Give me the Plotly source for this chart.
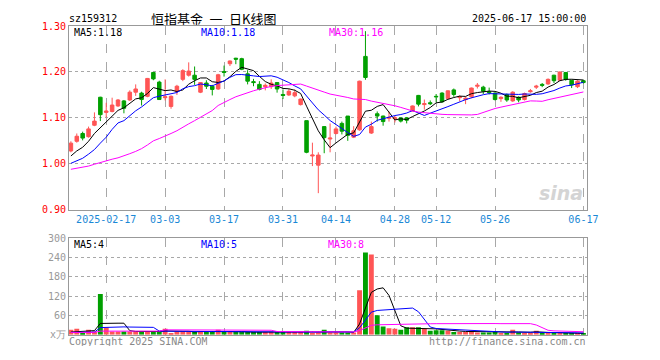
import plotly.graph_objects as go
import pandas as pd

dates = [
    "2025-02-07", "2025-02-10", "2025-02-11", "2025-02-12", "2025-02-13", "2025-02-14",
    "2025-02-17", "2025-02-18", "2025-02-19", "2025-02-20", "2025-02-21",
    "2025-02-24", "2025-02-25", "2025-02-26", "2025-02-27", "2025-02-28",
    "2025-03-03", "2025-03-04", "2025-03-05", "2025-03-06", "2025-03-07",
    "2025-03-10", "2025-03-11", "2025-03-12", "2025-03-13", "2025-03-14",
    "2025-03-17", "2025-03-18", "2025-03-19", "2025-03-20", "2025-03-21",
    "2025-03-24", "2025-03-25", "2025-03-26", "2025-03-27", "2025-03-28",
    "2025-03-31", "2025-04-01", "2025-04-02", "2025-04-03",
    "2025-04-07", "2025-04-08", "2025-04-09", "2025-04-10", "2025-04-11",
    "2025-04-14", "2025-04-15", "2025-04-16", "2025-04-17", "2025-04-18",
    "2025-04-21", "2025-04-22", "2025-04-23", "2025-04-24", "2025-04-25",
    "2025-04-28", "2025-04-29", "2025-04-30",
    "2025-05-06", "2025-05-07", "2025-05-08", "2025-05-09",
    "2025-05-12", "2025-05-13", "2025-05-14", "2025-05-15", "2025-05-16",
    "2025-05-19", "2025-05-20", "2025-05-21", "2025-05-22", "2025-05-23",
    "2025-05-26", "2025-05-27", "2025-05-28", "2025-05-29", "2025-05-30",
    "2025-06-03", "2025-06-04", "2025-06-05", "2025-06-06",
    "2025-06-09", "2025-06-10", "2025-06-11", "2025-06-12", "2025-06-13",
    "2025-06-16", "2025-06-17",
]

opens = [1.028, 1.049, 1.066, 1.059, 1.084, 1.145, 1.112, 1.114, 1.126, 1.137,
         1.139, 1.156, 1.154, 1.147, 1.199, 1.178, 1.144, 1.125, 1.158, 1.184,
         1.193, 1.193, 1.156, 1.176, 1.169, 1.163, 1.201, 1.218, 1.230, 1.229,
         1.196, 1.179, 1.173, 1.168, 1.168, 1.177, 1.151, 1.150, 1.148, 1.129,
         1.094, 1.017, 0.997, 1.081, 1.054, 1.066, 1.088, 1.104, 1.058, 1.074,
         1.234, 1.067, 1.109, 1.104, 1.099, 1.098, 1.100, 1.100, 1.115, 1.149,
         1.129, 1.133, 1.147, 1.154, 1.142, 1.161, 1.144, 1.140, 1.146, 1.169,
         1.167, 1.157, 1.154, 1.142, 1.151, 1.137, 1.145, 1.140, 1.157, 1.167,
         1.173, 1.174, 1.193, 1.182, 1.199, 1.182, 1.168, 1.181]
highs = [1.049, 1.066, 1.070, 1.081, 1.112, 1.146, 1.133, 1.144, 1.141, 1.139,
         1.160, 1.173, 1.157, 1.187, 1.200, 1.181, 1.184, 1.149, 1.172, 1.206,
         1.221, 1.212, 1.178, 1.182, 1.172, 1.196, 1.214, 1.225, 1.231, 1.231,
         1.204, 1.185, 1.180, 1.175, 1.184, 1.178, 1.162, 1.163, 1.162, 1.142,
         1.094, 1.046, 1.025, 1.082, 1.088, 1.081, 1.092, 1.104, 1.082, 1.181,
         1.289, 1.092, 1.114, 1.105, 1.114, 1.104, 1.101, 1.102, 1.127, 1.150,
         1.140, 1.138, 1.152, 1.156, 1.160, 1.164, 1.149, 1.146, 1.166, 1.176,
         1.170, 1.166, 1.156, 1.147, 1.153, 1.158, 1.147, 1.155, 1.163, 1.172,
         1.176, 1.186, 1.194, 1.201, 1.200, 1.183, 1.182, 1.183]
lows = [1.025, 1.046, 1.051, 1.057, 1.082, 1.093, 1.101, 1.112, 1.124, 1.110,
        1.137, 1.148, 1.127, 1.145, 1.182, 1.139, 1.138, 1.120, 1.150, 1.180,
        1.190, 1.172, 1.154, 1.163, 1.149, 1.161, 1.190, 1.213, 1.217, 1.204,
        1.173, 1.169, 1.160, 1.160, 1.163, 1.155, 1.141, 1.148, 1.145, 1.127,
        1.023, 0.995, 0.936, 1.023, 1.025, 1.064, 1.064, 1.050, 1.056, 1.072,
        1.183, 1.065, 1.092, 1.083, 1.092, 1.090, 1.090, 1.088, 1.114, 1.125,
        1.118, 1.128, 1.134, 1.133, 1.141, 1.146, 1.136, 1.130, 1.143, 1.164,
        1.152, 1.151, 1.138, 1.135, 1.135, 1.135, 1.134, 1.138, 1.155, 1.163,
        1.167, 1.172, 1.176, 1.181, 1.181, 1.165, 1.165, 1.175]
closes = [1.045, 1.060, 1.056, 1.076, 1.093, 1.107, 1.115, 1.128, 1.139, 1.121,
          1.156, 1.163, 1.140, 1.186, 1.185, 1.140, 1.146, 1.147, 1.169, 1.203,
          1.202, 1.184, 1.177, 1.169, 1.162, 1.194, 1.199, 1.224, 1.228, 1.206,
          1.180, 1.177, 1.162, 1.171, 1.176, 1.163, 1.149, 1.158, 1.155, 1.141,
          1.025, 1.019, 1.019, 1.057, 1.056, 1.076, 1.071, 1.062, 1.072, 1.180,
          1.188, 1.081, 1.104, 1.092, 1.101, 1.100, 1.093, 1.095, 1.126, 1.130,
          1.131, 1.131, 1.146, 1.135, 1.159, 1.151, 1.146, 1.143, 1.165, 1.171,
          1.158, 1.155, 1.140, 1.145, 1.139, 1.156, 1.139, 1.153, 1.159, 1.169,
          1.171, 1.184, 1.181, 1.200, 1.184, 1.172, 1.180, 1.177]
volumes = [15, 18, 5, 15, 10, 126, 22, 10, 10, 10,
           10, 10, 9, 10, 10, 10, 18, 5, 10, 10,
           10, 8, 10, 8, 8, 15, 8, 8, 8, 8,
           8, 8, 8, 8, 8, 8, 8, 8, 8, 8,
           12, 5, 7, 15, 7, 7, 7, 7, 7, 138,
           255, 249, 60, 25, 20, 18, 15, 23, 23, 23,
           18, 12, 14, 14, 12, 8, 8, 8, 12, 7,
           7, 7, 9, 5, 5, 15, 7, 5, 5, 12,
           6, 6, 5, 5, 5, 4, 3, 3]

# moving-average values before enough in-window history exists
ma5_head = [1.017, 1.028, 1.036, 1.049]
ma10_head = [1.001, 1.007, 1.012, 1.021, 1.031, 1.045, 1.058, 1.075, 1.089]
ma30_head = [0.988, 0.990, 0.992, 0.995, 0.999, 1.003, 1.007, 1.010, 1.013, 1.017,
             1.022, 1.027, 1.033, 1.041, 1.050, 1.055, 1.060, 1.066, 1.072, 1.080,
             1.087, 1.094, 1.101, 1.108, 1.116, 1.127, 1.134, 1.140, 1.146]
vma5_head = [8, 9, 9, 10]
vma10_head = [7, 7, 8, 8, 8, 22, 23, 23, 23]
vma30_head = [7] * 5 + [11] * 11 + [15] * 13

tick_dates = ["2025-02-17", "2025-03-03", "2025-03-17", "2025-03-31", "2025-04-14",
              "2025-04-28", "2025-05-12", "2025-05-26", "2025-06-17"]
tick_text = ["2025-02-17", "03-03", "03-17", "03-31", "04-14", "04-28", "05-12", "05-26", "06-17"]
price_ticks = [0.90, 1.00, 1.10, 1.20, 1.30]
vol_ticks = [0, 60, 120, 180, 240, 300]
vol_tick_text = ["x万", "60", "120", "180", "240", "300"]


def ma(vals, n, head):
    s = pd.Series(vals, dtype=float).rolling(n).mean().tolist()
    return list(head) + s[len(head):]


RED = "#ff5555"
GREEN = "#00a000"
GRID = "#a8a8a8"
FRAME = "#999999"
MONO = "DejaVu Sans Mono"
W, H = 660, 360

XL, XR = 70.3, 597.7
TOP_T, TOP_B = 20.8, 210.7
VOL_T, VOL_B = 240.0, 340.0

fig = go.Figure()

fig.add_trace(go.Candlestick(
    x=dates, open=opens, high=highs, low=lows, close=closes,
    increasing=dict(line=dict(color=RED, width=1), fillcolor=RED),
    decreasing=dict(line=dict(color=GREEN, width=1), fillcolor=GREEN),
    whiskerwidth=0, xaxis="x", yaxis="y", hoverinfo="skip", showlegend=False,
))
for vals, color in [(ma(closes, 5, ma5_head), "black"),
                    (ma(closes, 10, ma10_head), "#0000ff"),
                    (ma(closes, 30, ma30_head), "#ff00ff")]:
    fig.add_trace(go.Scatter(x=dates, y=vals, mode="lines", line=dict(color=color, width=1),
                             xaxis="x", yaxis="y", hoverinfo="skip", showlegend=False))

vcolors = [RED if c >= o else GREEN for o, c in zip(opens, closes)]
fig.add_trace(go.Bar(x=dates, y=volumes, marker=dict(color=vcolors, line=dict(width=0)),
                     xaxis="x2", yaxis="y2", hoverinfo="skip", showlegend=False))
for vals, color in [(ma(volumes, 5, vma5_head), "black"),
                    (ma(volumes, 10, vma10_head), "#0000ff"),
                    (ma(volumes, 30, vma30_head), "#ff00ff")]:
    fig.add_trace(go.Scatter(x=dates, y=vals, mode="lines", line=dict(color=color, width=1),
                             xaxis="x2", yaxis="y2", hoverinfo="skip", showlegend=False))

xdom = [XL / W, XR / W]
xrange = [-0.317, len(dates) - 1 + 0.58]
common_x = dict(type="category", domain=xdom, range=xrange, showline=True, mirror=True,
                linecolor=FRAME, linewidth=1, showgrid=True, gridcolor=GRID, griddash="dash",
                gridwidth=1, tickmode="array", tickvals=tick_dates, ticks="", zeroline=False,
                fixedrange=True)

fig.update_layout(
    width=W, height=H, margin=dict(l=0, r=0, t=0, b=0),
    paper_bgcolor="white", plot_bgcolor="white", bargap=0.17, boxgap=0.15,
    xaxis=dict(**common_x, anchor="y", ticktext=tick_text,
               tickfont=dict(family=MONO, size=10, color="#1a88d6"),
               rangeslider=dict(visible=False)),
    xaxis2=dict(**common_x, anchor="y2", ticktext=[""] * len(tick_dates), showticklabels=False),
    yaxis=dict(domain=[1 - TOP_B / H, 1 - TOP_T / H], range=[0.90, 1.30], anchor="x",
               showline=True, mirror=True, linecolor=FRAME, linewidth=1,
               showgrid=True, gridcolor=GRID, griddash="dot", tickmode="array",
               tickvals=price_ticks, ticktext=["%.2f" % v for v in price_ticks],
               tickfont=dict(family=MONO, size=10, color="#ff0000"), ticks="",
               zeroline=False, fixedrange=True),
    yaxis2=dict(domain=[1 - VOL_B / H, 1 - VOL_T / H], range=[0, 300], anchor="x2",
                showline=True, mirror=True, linecolor=FRAME, linewidth=1,
                showgrid=True, gridcolor=GRID, griddash="dot", tickmode="array",
                tickvals=vol_ticks, ticktext=vol_tick_text,
                tickfont=dict(family=MONO, size=10, color="#999999"), ticks="",
                zeroline=False, fixedrange=True),
)


def note(text, px, py, color="black", size=10, family=MONO, xanchor="left", height=None, **kw):
    fig.add_annotation(text=text, x=px / W, y=1 - py / H, xref="paper", yref="paper",
                       xanchor=xanchor, yanchor="middle", showarrow=False, borderpad=0,
                       height=height, valign="middle",
                       font=dict(family=family, size=size, color=color, **kw))


note("sz159312", 69.5, 13.3, height=11)
note("恒指基金\u2002一\u2002日K线图", 217.5, 13.0, size=13, family="Noto Sans CJK SC",
     xanchor="center", height=13)
note("2025-06-17 15:00:00", 597.8, 13.3, xanchor="right", height=11)
note("MA5:1.18", 74, 26.5, height=10)
note("MA10:1.18", 204, 26.5, color="#0000ff", height=10)
note("MA30:1.16", 334, 26.5, color="#ff00ff", height=10)
note("MA5:4", 74, 246.5, height=10)
note("MA10:5", 204, 246.5, color="#0000ff", height=10)
note("MA30:8", 333, 246.5, color="#ff00ff", height=10)
note("Copyright 2025 SINA.COM", 69.5, 346.5, color="#888888", height=10)
note("http://finance.sina.com.cn", 597.5, 346.5, color="#888888", xanchor="right", height=10)
note("sina", 595, 193, color="#d4d4d4", size=19, family="DejaVu Sans", xanchor="right",
     weight="bold", style="italic")

fig.write_html("out.html")
